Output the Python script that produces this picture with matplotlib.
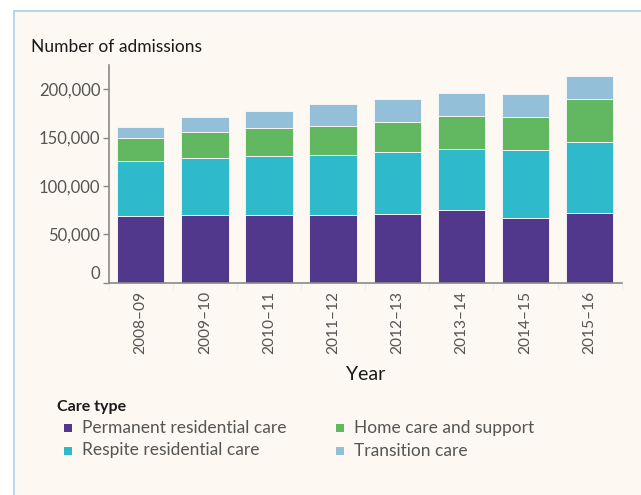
import numpy as np
import matplotlib
matplotlib.use("Agg")
import matplotlib.pyplot as plt
from matplotlib.patches import Rectangle
from matplotlib.ticker import FuncFormatter
from matplotlib.transforms import ScaledTranslation

plt.rcParams['font.family'] = ['Lato', 'DejaVu Sans']

years = ['2008–09', '2009–10', '2010–11', '2011–12',
         '2012–13', '2013–14', '2014–15', '2015–16']
permanent = [68900, 70000, 70000, 70000, 71300, 74800, 66900, 71700]
respite = [57000, 59300, 61000, 61700, 63500, 63500, 70300, 74100]
home_care = [23400, 26600, 28700, 30700, 31100, 33800, 33500, 43900]
transition = [12000, 14800, 18200, 22400, 23800, 24100, 24500, 24100]

series = [
    ('Permanent residential care', permanent, '#52388d'),
    ('Respite residential care', respite, '#2ebacb'),
    ('Home care and support', home_care, '#61b861'),
    ('Transition care', transition, '#93bfd8'),
]

W, H = 641, 495
fig = plt.figure(figsize=(W / 100, H / 100), dpi=100, facecolor='white')

# card background with light blue border
fig.patches.append(Rectangle((14 / W, -0.01), 1.0, 1 - 11 / H + 0.01,
                             transform=fig.transFigure, facecolor='#fdf8f1',
                             edgecolor='#a9cfea', linewidth=1.2, zorder=-10))

ax = fig.add_axes([108.7 / W, 1 - 282.5 / H, 513 / W, 217.5 / H])
ax.set_facecolor('none')

x = np.arange(len(years))
bottom = np.zeros(len(years))
for name, vals, color in series:
    ax.bar(x, vals, width=0.74, bottom=bottom, color=color,
           edgecolor='#f4f4f4', linewidth=0.7, label=name)
    bottom += np.array(vals)

ax.set_xlim(-0.5, len(years) - 0.5)
ax.set_ylim(0, 225000)
ax.set_yticks([0, 50000, 100000, 150000, 200000])
ax.yaxis.set_major_formatter(FuncFormatter(lambda v, p: f'{int(v):,}'))
ax.set_xticks(x)
ax.set_xticklabels(years, rotation=90)
ax.set_xticks(np.arange(-0.5, len(years), 1.0), minor=True)

for s in ['top', 'right']:
    ax.spines[s].set_visible(False)
for s in ['left', 'bottom']:
    ax.spines[s].set_color('#8a8a8a')
    ax.spines[s].set_linewidth(1.2)

ax.tick_params(axis='y', length=4, width=1, color='#8a8a8a', pad=2,
               labelsize=12, labelcolor='#555555')
ax.tick_params(axis='x', which='major', length=0, pad=6,
               labelsize=11.2, labelcolor='#555555')
ax.tick_params(axis='x', which='minor', length=5, width=0.8, color='#efebe5')

# the zero label sits a little above the baseline
zero_lab = ax.get_yticklabels()[0]
zero_lab.set_transform(zero_lab.get_transform() +
                       ScaledTranslation(0, 10 / 100, fig.dpi_scale_trans))

fig.text(31 / W, 1 - 47 / H, 'Number of admissions', fontsize=12.5,
         color='#1a1a1a', va='center', ha='left')
fig.text(366 / W, 1 - 375 / H, 'Year', fontsize=14,
         color='#1a1a1a', va='center', ha='center')

# legend
fig.text(57 / W, 1 - 406.5 / H, 'Care type', fontsize=11.5, fontweight='bold',
         color='#1a1a1a', va='center', ha='left')
leg_pos = [(64, 428), (64, 450.5), (336, 428), (336, 450.5)]
for (name, vals, color), (lx, ly) in zip(series, leg_pos):
    fig.patches.append(Rectangle((lx / W, 1 - (ly + 4) / H), 8 / W, 8 / H,
                                 transform=fig.transFigure, facecolor=color,
                                 edgecolor='none'))
    fig.text((lx + 17.5) / W, 1 - ly / H, name, fontsize=12.5,
             color='#555555', va='center', ha='left')

fig.savefig('out.png', dpi=100, facecolor=fig.get_facecolor())
